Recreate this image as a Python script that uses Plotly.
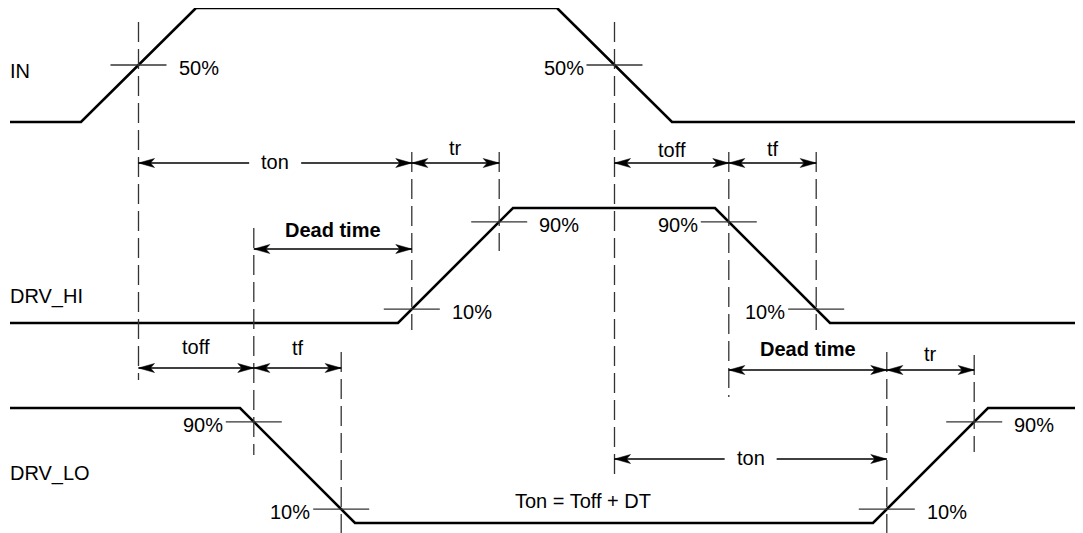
import plotly.graph_objects as go

# ---------------- data ----------------
signal_names = ["IN", "DRV_HI", "DRV_LO"]
# waveform break points (time axis) and logic levels (0 = low, 1 = high)
in_t = [10, 81, 196, 557, 672, 1083]
in_level = [0, 0, 1, 1, 0, 0]
hi_t = [10, 398, 513, 715, 830, 1083]
hi_level = [0, 0, 1, 1, 0, 0]
lo_t = [10, 240, 355, 873, 988, 1083]
lo_level = [1, 1, 0, 0, 1, 1]

# threshold marks: (key, signal index, edge index, fraction along edge, label, text side)
mark_keys = ["in_r50", "in_f50", "hi_r10", "hi_r90", "hi_f90", "hi_f10",
             "lo_f90", "lo_f10", "lo_r10", "lo_r90"]
mark_signal = [0, 0, 1, 1, 1, 1, 2, 2, 2, 2]
mark_edge = [1, 3, 1, 1, 3, 3, 1, 1, 3, 3]
mark_frac = [0.5, 0.5, 0.12, 0.88, 0.12, 0.88, 0.12, 0.88, 0.12, 0.88]
mark_label = ["50%", "50%", "10%", "90%", "90%", "10%", "90%", "10%", "10%", "90%"]
mark_side = ["right", "left", "right", "right", "left", "left", "left", "left", "right", "right"]

# timing intervals: (label, from mark, to mark)
interval_label = ["ton", "tr", "toff", "tf", "Dead time", "toff", "tf", "Dead time", "tr", "ton"]
interval_from = ["in_r50", "hi_r10", "in_f50", "hi_f90", "lo_f90", "in_r50", "lo_f90", "hi_f90", "lo_r10", "in_f50"]
interval_to = ["hi_r10", "hi_r90", "hi_f90", "hi_f10", "hi_r10", "lo_f90", "lo_f10", "lo_r10", "lo_r90", "lo_r10"]

formula_text = "Ton = Toff + DT"

# ---------------- layout / style ----------------
W, H = 1083, 533
PAGE_MARGIN = 8                # default body margin of the html page
row_base = [122, 323, 523]     # pixel y of low level
row_top = [8, 208, 408]        # pixel y of high level
label_y = [71, 296, 473]

interval_y = [163, 163, 163, 163, 249, 368, 368, 370, 370, 459]
interval_style = ["inline", "above", "above", "above", "bold", "above", "above", "bold", "above", "inline"]
interval_gap = [0, 8, 6, 7, 12, 14, 13, 14, 9, 0]

dash_y0 = {"in_r50": 22, "in_f50": 22, "hi_r10": 152, "hi_r90": 152, "hi_f90": 152,
           "hi_f10": 152, "lo_f90": 228, "lo_f10": 352, "lo_r10": 352, "lo_r90": 355}
dash_y1 = {"in_r50": 380, "in_f50": 475, "hi_r10": 330, "hi_r90": 251, "hi_f90": 397,
           "hi_f10": 330, "lo_f90": 455, "lo_f10": 533, "lo_r10": 533, "lo_r90": 452}

FONT = "Liberation Sans, Arial, sans-serif"
FS = 20
THIN = "#333333"

waves = [(in_t, in_level), (hi_t, hi_level), (lo_t, lo_level)]


def lvl_to_y(i, v):
    return row_base[i] - v * (row_base[i] - row_top[i])


fig = go.Figure()

# waveforms
for i, (t, lv) in enumerate(waves):
    fig.add_trace(go.Scatter(x=t, y=[lvl_to_y(i, v) for v in lv], mode="lines",
                             line=dict(color="black", width=2.6), hoverinfo="skip",
                             showlegend=False, cliponaxis=False))

shapes = []
annotations = []

# signal names
for i, name in enumerate(signal_names):
    annotations.append(dict(x=8, y=label_y[i], text=name, xanchor="left", yanchor="middle",
                            showarrow=False, font=dict(family=FONT, size=FS, color="black")))

# threshold marks
marks = {}
for k, s, e, f, lab, side in zip(mark_keys, mark_signal, mark_edge, mark_frac, mark_label, mark_side):
    t, lv = waves[s]
    x = t[e] + f * (t[e + 1] - t[e])
    v = lv[e] + f * (lv[e + 1] - lv[e])
    y = lvl_to_y(s, v)
    marks[k] = (x, y)
    shapes.append(dict(type="line", xref="x", yref="y", x0=x - 28, x1=x + 28, y0=y, y1=y,
                       line=dict(color=THIN, width=1.3)))
    if side == "right":
        annotations.append(dict(x=x + 38, y=y + 3, text=lab, xanchor="left", yanchor="middle",
                                showarrow=False, font=dict(family=FONT, size=FS, color="black")))
    else:
        annotations.append(dict(x=x - 29, y=y + 3, text=lab, xanchor="right", yanchor="middle",
                                showarrow=False, font=dict(family=FONT, size=FS, color="black")))

# dashed reference lines
for k in mark_keys:
    x = marks[k][0]
    shapes.append(dict(type="line", xref="x", yref="y", x0=x, x1=x, y0=dash_y0[k], y1=dash_y1[k],
                       line=dict(color=THIN, width=1.3, dash="20px,7px")))


def arrow_head(xtip, y, direction):
    # direction: +1 points right, -1 points left
    L, Wd, N = 16, 4.5, 12
    p = [(xtip, y), (xtip - direction * L, y - Wd), (xtip - direction * N, y),
         (xtip - direction * L, y + Wd)]
    path = "M " + " L ".join(f"{a},{b}" for a, b in p) + " Z"
    return dict(type="path", xref="x", yref="y", path=path, fillcolor="black",
                line=dict(color="black", width=0.5))


# timing intervals
for lab, a, b, y, st, g in zip(interval_label, interval_from, interval_to, interval_y,
                                interval_style, interval_gap):
    xa, xb = marks[a][0], marks[b][0]
    x0, x1 = min(xa, xb), max(xa, xb)
    xm = (x0 + x1) / 2
    if st == "inline":
        half = 26
        for s0, s1 in ((x0, xm - half), (xm + half, x1)):
            shapes.append(dict(type="line", xref="x", yref="y", x0=s0, x1=s1, y0=y, y1=y,
                               line=dict(color="black", width=1.3)))
        annotations.append(dict(x=xm, y=y - 1, text=lab, xanchor="center", yanchor="middle",
                                showarrow=False, font=dict(family=FONT, size=FS, color="black")))
    else:
        shapes.append(dict(type="line", xref="x", yref="y", x0=x0, x1=x1, y0=y, y1=y,
                           line=dict(color="black", width=1.3)))
        txt = f"<b>{lab}</b>" if st == "bold" else lab
        annotations.append(dict(x=xm, y=y - g - 7, text=txt, xanchor="center", yanchor="middle",
                                showarrow=False, font=dict(family=FONT, size=FS, color="black")))
    shapes.append(arrow_head(x0, y, -1))
    shapes.append(arrow_head(x1, y, +1))

# formula
annotations.append(dict(x=583, y=501, text=formula_text, xanchor="center", yanchor="middle",
                        showarrow=False, font=dict(family=FONT, size=FS, color="black")))

# the page places the plot at (8, 8); shrink the figure by that and start the axes there
fig.update_layout(
    width=W - PAGE_MARGIN, height=H - PAGE_MARGIN, margin=dict(l=0, r=0, t=0, b=0),
    paper_bgcolor="white", plot_bgcolor="white",
    xaxis=dict(range=[PAGE_MARGIN, W], visible=False, fixedrange=True),
    yaxis=dict(range=[H, PAGE_MARGIN], visible=False, fixedrange=True),
    shapes=shapes, annotations=annotations, showlegend=False,
)

fig.write_html("out.html")
